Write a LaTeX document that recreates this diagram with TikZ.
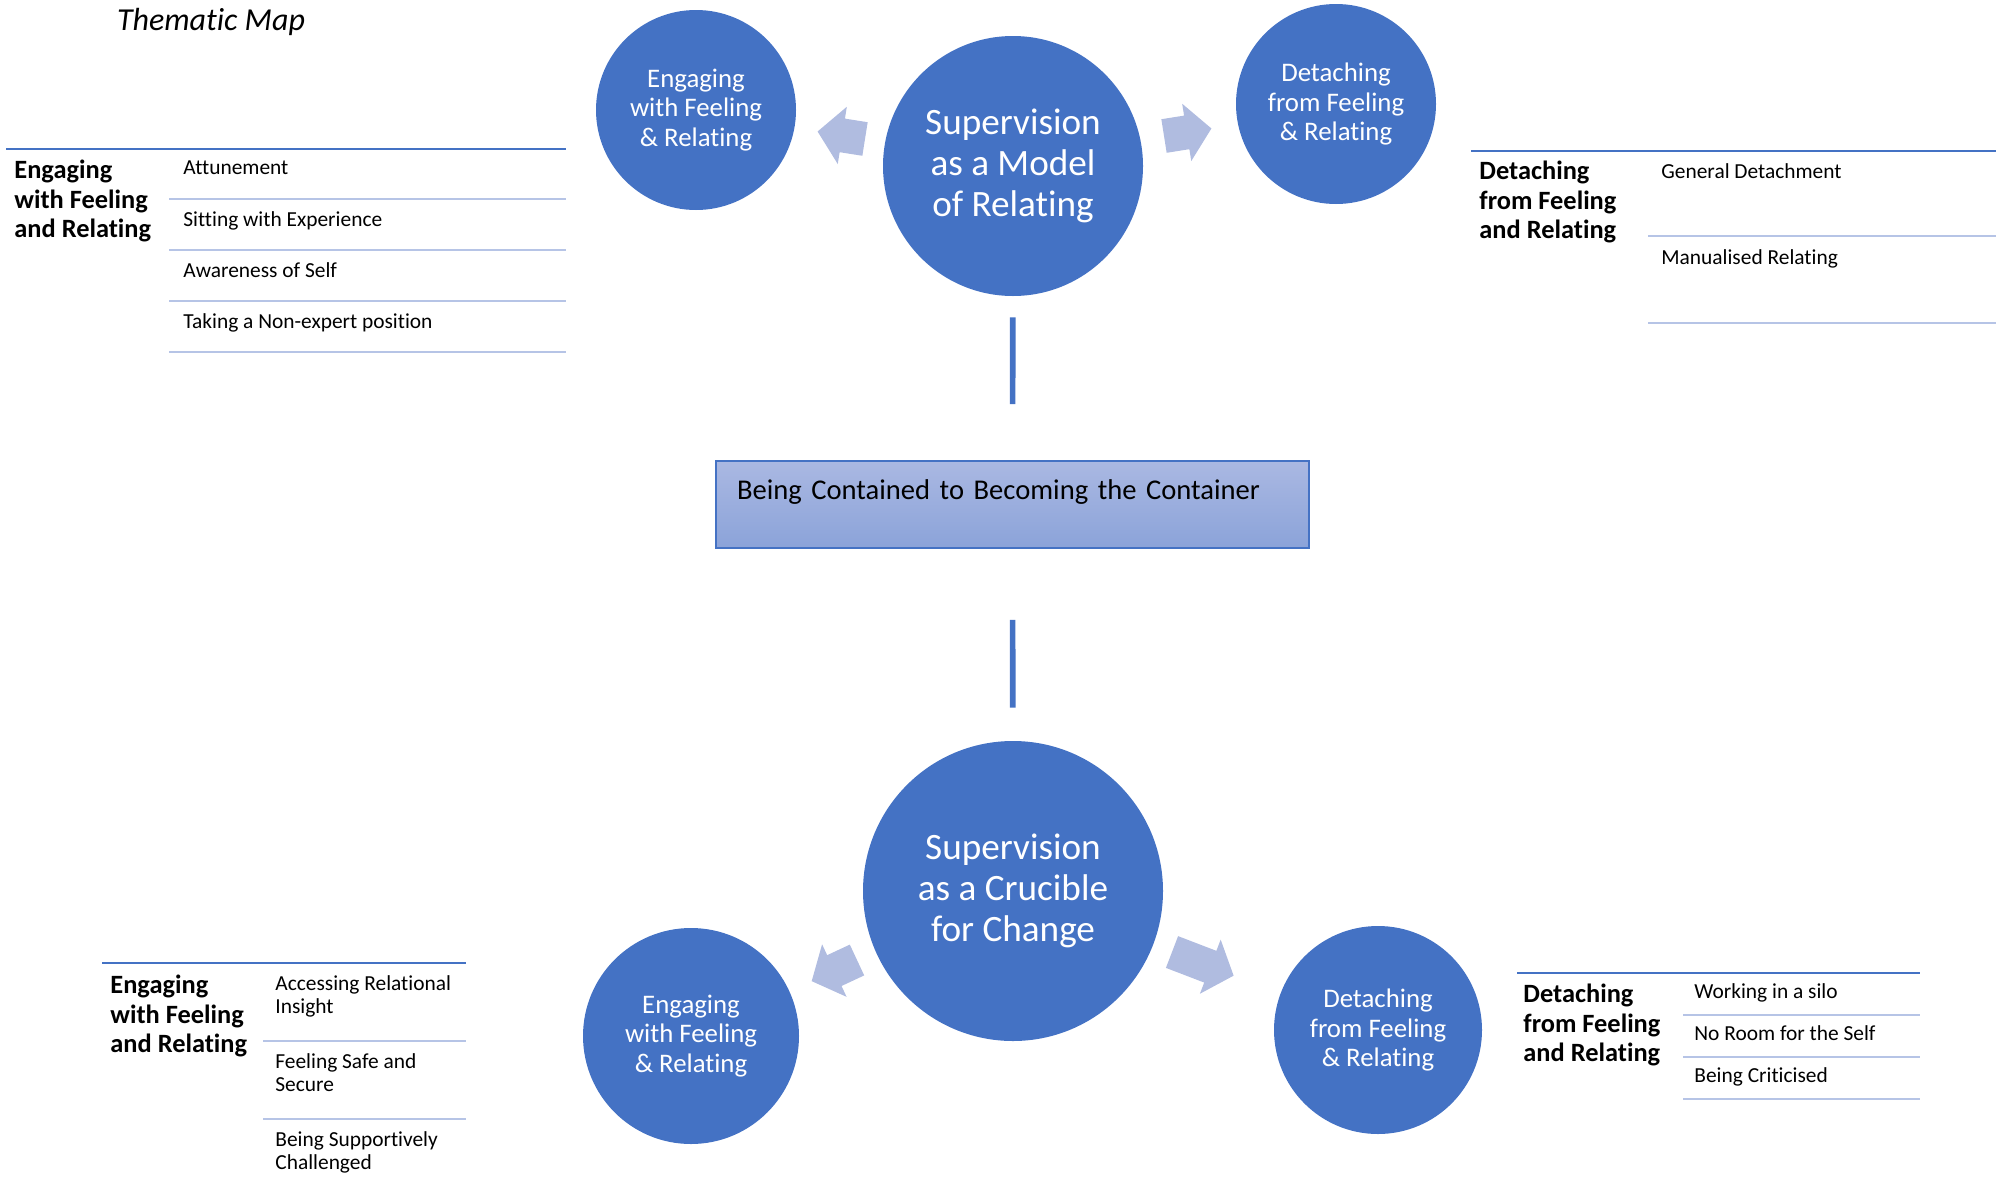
\documentclass[tikz,border=0pt]{standalone}
\usepackage{fontspec}
\setmainfont{Carlito}[Ligatures=NoCommon]
\usetikzlibrary{positioning}

\definecolor{mapblue}{RGB}{68,114,196}
\definecolor{arrowfill}{RGB}{176,188,224}
\definecolor{sepline}{RGB}{182,196,230}
\definecolor{boxtop}{RGB}{170,184,226}
\definecolor{boxbot}{RGB}{139,163,217}

\begin{document}
\begin{tikzpicture}[
        x=0.5pt, y=-0.5pt,
        hub/.style={circle, fill=mapblue, text=white, align=center, inner sep=0pt, font=\fontsize{18.6}{20.5}\selectfont},
        theme/.style={circle, fill=mapblue, text=white, align=center, inner sep=0pt, font=\fontsize{13.4}{14.6}\selectfont},
        tablehead/.style={anchor=north west, align=left, inner sep=0pt, font=\bfseries\fontsize{13.2}{14.6}\selectfont},
        subtheme/.style={anchor=north west, align=left, inner sep=0pt, font=\fontsize{10.7}{11.6}\selectfont},
        toprule/.style={draw=mapblue, line width=1.4pt},
        seprule/.style={draw=sepline, line width=1pt},
        link/.style={draw=mapblue, line width=2.8pt},
        container/.style={rectangle, draw=mapblue, line width=0.8pt, top color=boxtop, bottom color=boxbot,
            minimum width=296.5pt, text width=275.5pt, inner xsep=10.5pt, inner ysep=4.25pt,
            text height=15pt, text depth=20pt, align=left, font=\fontsize{14.3}{17}\selectfont},
        pics/blockarr/.style={code={
            \fill[arrowfill] (0,-17) -- (#1,-17) -- (#1,-29) -- (#1+25,0) -- (#1,29) -- (#1,17) -- (0,17) -- cycle;}}
        ]
        \useasboundingbox (0,0) rectangle (2002,1194);

        \node[font=\itshape\fontsize{16}{19}\selectfont] (title) at (211,22) {Thematic Map};

        % top model
        \node[hub, minimum size=130pt] (mtop) at (1013,166) {Supervision\\as a Model\\of Relating};
        \node[theme, minimum size=100pt] (etop) at (696,110) {Engaging\\with Feeling\\\& Relating};
        \node[theme, minimum size=100pt] (dtop) at (1336,104) {Detaching\\from Feeling\\\& Relating};
        \pic[rotate=171] at (865,139) {blockarr=23};
        \pic[rotate=9] at (1164,136) {blockarr=23};

        % core category
        \node[container] (box) at (1012.5,504.5) {Being Contained to Becoming the Container};

        % bottom model
        \node[hub, minimum size=150pt] (mbot) at (1013,891) {Supervision\\as a Crucible\\for Change};
        \node[theme, minimum size=108pt] (ebot) at (691,1036) {Engaging\\with Feeling\\\& Relating};
        \node[theme, minimum size=104pt] (dbot) at (1378,1030) {Detaching\\from Feeling\\\& Relating};
        \pic[rotate=205] at (857,960) {blockarr=25};
        \pic[rotate=-21] at (1172,952) {blockarr=41};

        \draw[link, shorten <=10.5pt, shorten >=28pt] (mtop) -- (box);
        \draw[link, shorten <=35.5pt, shorten >=16.5pt] (box) -- (mbot);

        % top left table
        \draw[toprule] (6,149) -- (566,149);
        \node[tablehead] (tlhead) at (14,160) {Engaging\\with Feeling\\and Relating};
        \node[subtheme] (tl1) at (183,160) {Attunement};
        \node[subtheme] (tl2) at (183,211) {Sitting with Experience};
        \node[subtheme] (tl3) at (183,262) {Awareness of Self};
        \node[subtheme] (tl4) at (183,313) {Taking a Non-expert position};
        \draw[seprule] (169,199) -- (566,199);
        \draw[seprule] (169,250) -- (566,250);
        \draw[seprule] (169,301) -- (566,301);
        \draw[seprule] (169,352) -- (566,352);

        % top right table
        \draw[toprule] (1471,151) -- (1996,151);
        \node[tablehead] (trhead) at (1479,161) {Detaching\\from Feeling\\and Relating};
        \node[subtheme] (tr1) at (1661,163) {General Detachment};
        \node[subtheme] (tr2) at (1661,249) {Manualised Relating};
        \draw[seprule] (1648,236) -- (1996,236);
        \draw[seprule] (1648,323) -- (1996,323);

        % bottom left table
        \draw[toprule] (102,963) -- (466,963);
        \node[tablehead] (blhead) at (110,975) {Engaging\\with Feeling\\and Relating};
        \node[subtheme] (bl1) at (275,975) {Accessing Relational\\Insight};
        \node[subtheme] (bl2) at (275,1053) {Feeling Safe and\\Secure};
        \node[subtheme] (bl3) at (275,1131) {Being Supportively\\Challenged};
        \draw[seprule] (263,1041) -- (466,1041);
        \draw[seprule] (263,1119) -- (466,1119);

        % bottom right table
        \draw[toprule] (1517,973) -- (1920,973);
        \node[tablehead] (brhead) at (1523,984) {Detaching\\from Feeling\\and Relating};
        \node[subtheme] (br1) at (1694,983) {Working in a silo};
        \node[subtheme] (br2) at (1694,1025) {No Room for the Self};
        \node[subtheme] (br3) at (1694,1067) {Being Criticised};
        \draw[seprule] (1683,1015) -- (1920,1015);
        \draw[seprule] (1683,1057) -- (1920,1057);
        \draw[seprule] (1683,1099) -- (1920,1099);
    \end{tikzpicture}
\end{document}
